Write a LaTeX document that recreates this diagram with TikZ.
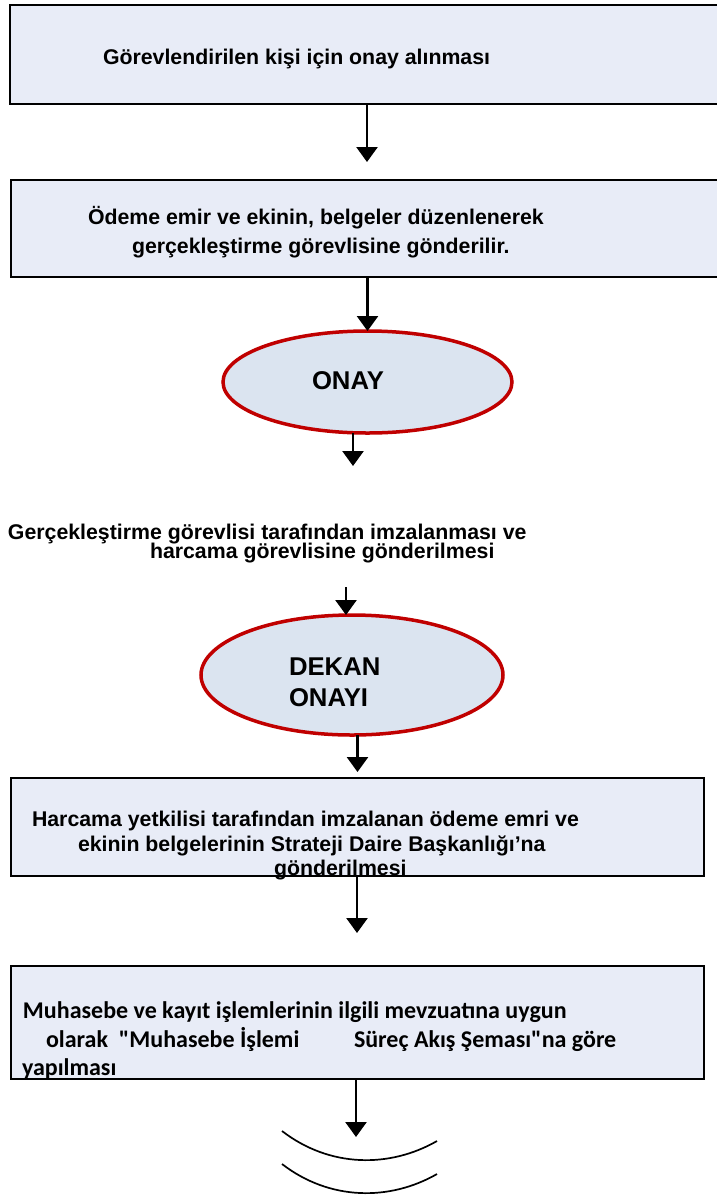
\documentclass[tikz,border=0pt]{standalone}
\usepackage{fontspec}
\setmainfont{Liberation Sans}
\newfontfamily\calibri{Carlito}
\usepackage{tikz}
\usetikzlibrary{arrows.meta, shapes.geometric}
\definecolor{boxfill}{HTML}{E8ECF7}
\definecolor{ovalfill}{HTML}{DBE4F0}
\definecolor{ovalline}{HTML}{C00000}

\begin{document}
\begin{tikzpicture}[x=1pt, y=-1pt,
    every node/.style={inner sep=0pt, outer sep=0pt},
    box/.style={rectangle, draw, fill=boxfill, line width=2.5pt},
    oval/.style={ellipse, draw=ovalline, fill=ovalfill, line width=3.5pt},
    txt/.style={anchor=base west, font=\fontsize{21.3}{24}\selectfont\bfseries},
    big/.style={anchor=base west, font=\fontsize{25.7}{30}\selectfont\bfseries},
    cal/.style={anchor=base west, font=\fontsize{24}{28}\selectfont\calibri\bfseries},
    arr/.style={-{Triangle[length=15pt, width=21pt]}, line width=2.6pt}]
  \useasboundingbox (0,0) rectangle (717,1195);
  % shapes
  \node[box, minimum width=714pt, minimum height=99pt] (gorev) at (367,54.5) {};
  \node[box, minimum width=713pt, minimum height=97pt] (odeme) at (367.5,228.5) {};
  \node[oval, minimum width=289pt, minimum height=102pt] (onay) at (367.5,382) {};
  \node[oval, minimum width=302pt, minimum height=120pt] (dekan) at (352,675) {};
  \node[box, minimum width=693pt, minimum height=98pt] (harcama) at (357.5,827) {};
  \node[box, minimum width=693pt, minimum height=113pt] (muhasebe) at (357.5,1022.5) {};
  % texts
  \node[txt] (gorevT) at (103,64) {Görevlendirilen kişi için onay alınması};
  \node[txt] (odemeA) at (88,224) {Ödeme emir ve ekinin, belgeler düzenlenerek};
  \node[txt] (odemeB) at (132,253) {gerçekleştirme görevlisine gönderilir.};
  \node[big] (onayT) at (312,389) {ONAY};
  \node[txt] (imzaA) at (8,539) {Gerçekleştirme görevlisi tarafından imzalanması ve};
  \node[txt] (imzaB) at (150,558) {harcama görevlisine gönderilmesi};
  \node[big] (dekanA) at (289,675) {DEKAN};
  \node[big] (dekanB) at (289,706) {ONAYI};
  \node[txt] (harcamaA) at (32,826) {Harcama yetkilisi tarafından imzalanan ödeme emri ve};
  \node[txt] (harcamaB) at (78,851) {ekinin belgelerinin Strateji Daire Başkanlığı’na};
  \node[txt] (harcamaC) at (274,875) {gönderilmesi};
  \node[cal] (muhA) at (23,1018) {Muhasebe ve kayıt işlemlerinin ilgili mevzuatına uygun};
  \node[cal] (muhB) at (46,1047) {olarak\ \ \symbol{34}Muhasebe İşlemi};
  \node[cal] (muhC) at (354,1047) {Süreç Akış Şeması\symbol{34}na göre};
  \node[cal] (muhD) at (22,1075) {yapılması};
  % arrows
  \coordinate (g1) at (367,162);
  \coordinate (o1) at (353,466);
  \coordinate (d1) at (346,587);
  \coordinate (h1) at (357,933);
  \coordinate (m1) at (356,1137);
  \draw[arr] (gorev.south) -- (g1);
  \draw[arr] (odeme.south) -- (onay.north);
  \draw[arr] (onay.south -| o1) -- (o1);
  \draw[arr] (d1) -- (d1 |- dekan.north);
  \draw[arr] (dekan.south -| harcama.north) -- ([yshift=6pt]harcama.north);
  \draw[arr] (harcama.south -| h1) -- (h1);
  \draw[arr] (muhasebe.south -| m1) -- (m1);
  % end mark
  \draw[line width=1.7pt] (282,1131) .. controls (330,1168) and (390,1168) .. (437,1141);
  \draw[line width=1.7pt] (282,1164) .. controls (330,1201) and (390,1201) .. (437,1174);
\end{tikzpicture}
\end{document}
